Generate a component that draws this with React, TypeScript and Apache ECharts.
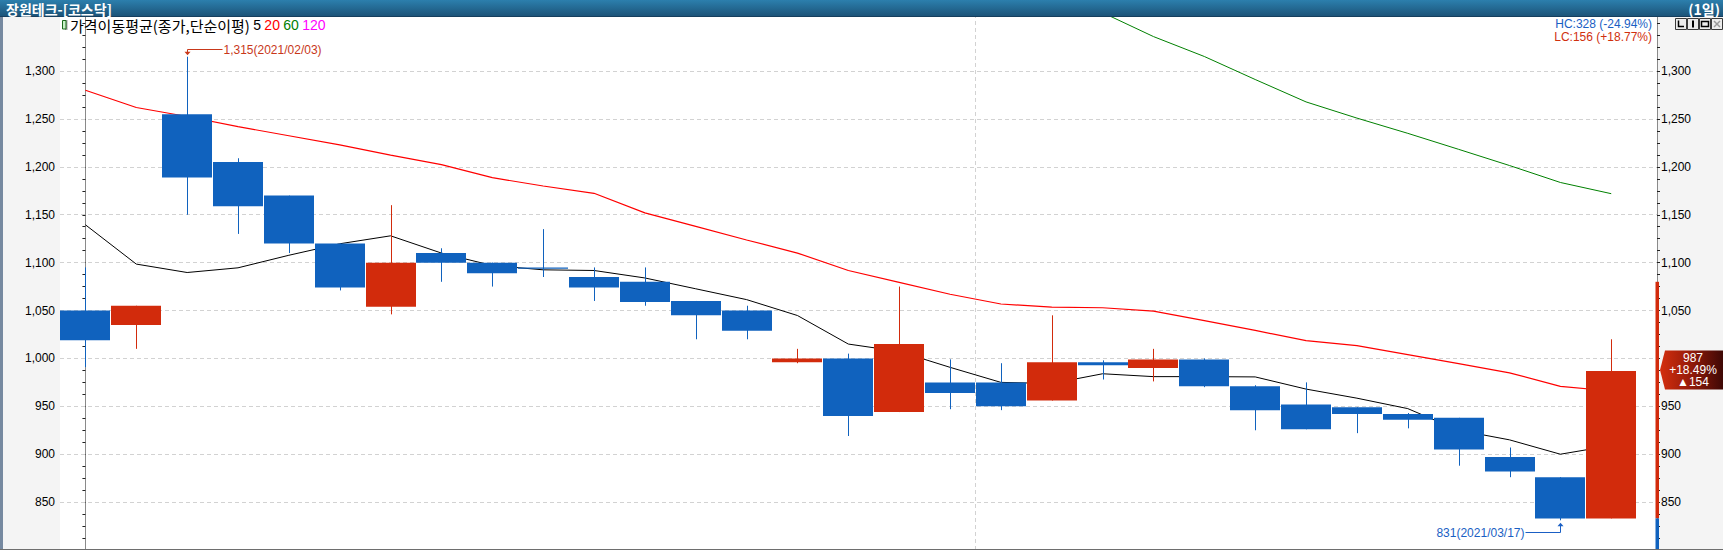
import React, { useEffect, useRef } from 'react';
import * as echarts from 'echarts';

// ---------- data ----------
const DATES = [
  '2021/02/01', '2021/02/02', '2021/02/03', '2021/02/04', '2021/02/05', '2021/02/08', '2021/02/09',
  '2021/02/10', '2021/02/15', '2021/02/16', '2021/02/17', '2021/02/18', '2021/02/19', '2021/02/22',
  '2021/02/23', '2021/02/24', '2021/02/25', '2021/02/26', '2021/03/02', '2021/03/03', '2021/03/04',
  '2021/03/05', '2021/03/08', '2021/03/09', '2021/03/10', '2021/03/11', '2021/03/12', '2021/03/15',
  '2021/03/16', '2021/03/17', '2021/03/18',
];
const OPEN = [1050, 1035, 1255, 1205, 1170, 1120, 1054, 1110, 1100, 1095, 1085, 1080, 1060, 1050, 996, 1000, 944, 975, 975, 956, 996, 990, 999, 971, 952, 949, 942, 938, 897, 876, 833];
const CLOSE = [1019, 1055, 1189, 1159, 1120, 1074, 1100, 1100, 1089, 1095, 1074, 1059, 1045, 1029, 1000, 940, 1015, 964, 950, 996, 993, 999, 971, 946, 926, 942, 936, 905, 882, 833, 987];
const LOW = [991, 1010, 1150, 1130, 1110, 1071, 1046, 1080, 1075, 1085, 1060, 1055, 1020, 1020, 995, 919, 944, 947, 946, 956, 978, 976, 970, 925, 926, 922, 927, 888, 876, 831, 833];
const HIGH = [1095, 1055, 1315, 1209, 1170, 1120, 1160, 1115, 1100, 1135, 1095, 1095, 1060, 1055, 1010, 1005, 1075, 999, 995, 1045, 998, 1010, 1000, 972, 975, 949, 943, 938, 907, 876, 1020];
const MA5 = [1139.5, 1098.5, 1089.7, 1094.6, 1107.7, 1119.7, 1128, 1110, 1097, 1092.5, 1091.8, 1084, 1072.7, 1061.4, 1044.8, 1015, 1007.3, 990.7, 975, 973.8, 984, 981, 981, 980.7, 968, 958.5, 947.6, 925, 915, 900, 909];
const MA20 = [1280, 1262, 1252.6, 1242, 1232.5, 1223, 1212.3, 1202.4, 1188.7, 1180, 1172.4, 1151.9, 1137.8, 1123.6, 1110, 1091.8, 1079.4, 1067, 1056.8, 1053.6, 1052.9, 1049.4, 1039.5, 1029.2, 1018.6, 1013.3, 1004, 994.6, 985, 970.9, 966];
const MA60: (number | null)[] = [null, null, null, null, null, null, null, null, null, null, null, null, null, null, null, null, null, null, null, null, 1361, 1336, 1315.2, 1291.2, 1267.8, 1250.9, 1235, 1218.3, 1201.4, 1183.7, 1172];
const Y_TICKS = [850, 900, 950, 1000, 1050, 1100, 1150, 1200, 1250, 1300];
const PREV_CLOSE = 833;
const UPPER_LIMIT = 1080;
const TITLE = '장원테크-[코스닥]';
const PERIOD = '(1일)';
const LEGEND_NAME = '가격이동평균(종가,단순이평)';
const MA_PERIODS = ['5', '20', '60', '120'];

// ---------- styles ----------
const BLUE = '#1062BE';
const RED = '#D22B0C';
const FONT_NUM = '"Liberation Sans", Arial, sans-serif';
const FONT_KR = '"Noto Sans CJK KR", sans-serif';

const fmt = (v: number) => v.toLocaleString('en-US');

function buildOption(): any {
  const candles = OPEN.map((o, i) => [i, o, CLOSE[i], LOW[i], HIGH[i]]);
  const toPairs = (arr: (number | null)[]) =>
    arr.map((v, i) => [i, v]).filter((p) => p[1] !== null);
  let monthBreak = -1;
  for (let i = 1; i < DATES.length; i++) {
    if (DATES[i].slice(5, 7) !== DATES[i - 1].slice(5, 7)) { monthBreak = i - 0.5; break; }
  }
  const lastClose = CLOSE[CLOSE.length - 1];
  const inRange = (v: number) => v >= Y_TICKS[0] && v <= Y_TICKS[Y_TICKS.length - 1];
  const yAxisBase = {
    type: 'value',
    min: 800,
    max: 1360,
    interval: 50,
    axisLine: { show: true, lineStyle: { color: '#8a8a8a', width: 1 } },
    axisTick: { show: true, length: 3, lineStyle: { color: '#222' } },
    minorTick: { show: true, splitNumber: 4, length: 3, lineStyle: { color: '#222' } },
    splitLine: { show: false },
    minorSplitLine: { show: false },
    axisLabel: {
      color: '#000',
      fontSize: 12,
      fontFamily: FONT_NUM,
      formatter: (v: number) => (inRange(v) ? fmt(v) : ''),
    },
  };
  return {
    animation: false,
    backgroundColor: '#ffffff',
    grid: { left: 60, width: 1597, top: 13.6, height: 538.5, containLabel: false },
    xAxis: { type: 'value', min: -0.5, max: 30.9, show: false },
    yAxis: [
      { ...yAxisBase, position: 'left', axisLabel: { ...yAxisBase.axisLabel, margin: 5 } },
      {
        ...yAxisBase,
        position: 'right',
        axisLabel: {
          ...yAxisBase.axisLabel,
          margin: 4,
          // the current-price tag covers the label next to it
          formatter: (v: number) => (inRange(v) && Math.abs(v - lastClose) > 21 ? fmt(v) : ''),
        },
      },
    ],
    series: [
      {
        type: 'line',
        data: [],
        z: 1,
        silent: true,
        markLine: {
          z: 1,
          silent: true,
          symbol: ['none', 'none'],
          label: { show: false },
          lineStyle: { color: '#d2d2d2', type: [4, 3], width: 1 },
          data: [...Y_TICKS.map((v) => ({ yAxis: v })), ...(monthBreak >= 0 ? [{ xAxis: monthBreak }] : [])],
        },
      },
      {
        type: 'line', name: 'MA60', data: toPairs(MA60), showSymbol: false, z: 2, clip: true,
        lineStyle: { color: '#008000', width: 1 }, itemStyle: { color: '#008000' },
      },
      {
        type: 'line', name: 'MA20', data: toPairs(MA20), showSymbol: false, z: 2, clip: true,
        lineStyle: { color: '#FF0000', width: 1.2 }, itemStyle: { color: '#FF0000' },
      },
      {
        type: 'line', name: 'MA5', data: toPairs(MA5), showSymbol: false, z: 2, clip: true,
        lineStyle: { color: '#000000', width: 1 }, itemStyle: { color: '#000000' },
      },
      {
        type: 'custom',
        name: 'price',
        z: 3,
        clip: true,
        data: candles,
        encode: { x: 0, y: [1, 2, 3, 4] },
        renderItem: (params: any, api: any) => {
          const i = api.value(0);
          const o = api.value(1);
          const c = api.value(2);
          const l = api.value(3);
          const h = api.value(4);
          const po = api.coord([i, o]);
          const pc = api.coord([i, c]);
          const pl = api.coord([i, l]);
          const ph = api.coord([i, h]);
          const w = Math.round(api.size([1, 0])[0] * 0.983);
          const color = c > o ? RED : BLUE;
          const cx = Math.round(po[0]);
          const top = Math.min(po[1], pc[1]);
          const bh = Math.max(Math.abs(po[1] - pc[1]), 1.2);
          return {
            type: 'group',
            children: [
              { type: 'line', shape: { x1: cx + 0.5, y1: ph[1], x2: cx + 0.5, y2: pl[1] }, style: { stroke: color, lineWidth: 1 } },
              { type: 'rect', shape: { x: Math.round(cx - w / 2), y: top, width: w, height: bh }, style: { fill: color } },
            ],
          };
        },
      },
    ],
  };
}

function buildGraphics(px: (i: number, v: number) => number[]): any[] {
  const g: any[] = [];
  // panels
  g.push({ type: 'rect', z: -5, shape: { x: 0, y: 0, width: 60, height: 550 }, style: { fill: '#f4f4f4' } });
  g.push({ type: 'rect', z: -4, shape: { x: 0, y: 0, width: 3, height: 550 }, style: { fill: '#7689a0' } });
  g.push({ type: 'rect', z: -5, shape: { x: 1657.5, y: 0, width: 66, height: 550 }, style: { fill: '#f4f4f4' } });
  g.push({ type: 'rect', z: 50, shape: { x: 0, y: 549, width: 1723, height: 1.5 }, style: { fill: '#6e6e6e' } });

  // title bar
  g.push({
    type: 'rect', z: 100, shape: { x: 0, y: 0, width: 1723, height: 16 },
    style: {
      fill: new echarts.graphic.LinearGradient(0, 0, 0, 1, [
        { offset: 0, color: '#2c7fad' },
        { offset: 1, color: '#1c5479' },
      ]),
    },
  });
  g.push({ type: 'rect', z: 100, shape: { x: 0, y: 16, width: 1723, height: 1 }, style: { fill: '#163f5e' } });
  g.push({
    type: 'text', z: 101, x: 6, y: 8.5,
    style: { text: TITLE, fill: '#ffffff', fontSize: 14, fontWeight: 'bold', fontFamily: FONT_KR, align: 'left', verticalAlign: 'middle' },
  });
  g.push({
    type: 'text', z: 101, x: 1720, y: 8.5,
    style: { text: PERIOD, fill: '#ffffff', fontSize: 14, fontWeight: 'bold', fontFamily: FONT_KR, align: 'right', verticalAlign: 'middle' },
  });

  // window buttons
  for (let b = 0; b < 4; b++) {
    const x0 = 1675 + b * 12;
    const y0 = 18;
    g.push({ type: 'rect', z: 60, shape: { x: x0 + 0.5, y: y0 + 0.5, width: 11, height: 11 }, style: { fill: '#ececec', stroke: '#3a3a3a', lineWidth: 1 } });
    const ic = b === 3 ? '#9a9a9a' : '#000';
    if (b === 0) g.push({ type: 'polyline', z: 61, shape: { points: [[x0 + 3.5, y0 + 2.5], [x0 + 3.5, y0 + 8.5], [x0 + 9, y0 + 8.5]] }, style: { stroke: ic, lineWidth: 1.5, fill: 'none' } });
    if (b === 1) g.push({ type: 'rect', z: 61, shape: { x: x0 + 5, y: y0 + 2.5, width: 2, height: 7 }, style: { fill: ic } });
    if (b === 2) g.push({ type: 'rect', z: 61, shape: { x: x0 + 2.5, y: y0 + 3.5, width: 7, height: 5 }, style: { fill: 'none', stroke: ic, lineWidth: 1.5 } });
    if (b === 3) {
      g.push({ type: 'line', z: 61, shape: { x1: x0 + 3, y1: y0 + 3, x2: x0 + 9, y2: y0 + 9 }, style: { stroke: ic, lineWidth: 1.5 } });
      g.push({ type: 'line', z: 61, shape: { x1: x0 + 9, y1: y0 + 3, x2: x0 + 3, y2: y0 + 9 }, style: { stroke: ic, lineWidth: 1.5 } });
    }
  }

  // legend
  g.push({ type: 'rect', z: 60, shape: { x: 65, y: 20, width: 2.5, height: 10 }, style: { fill: '#a0a0a0' } });
  g.push({ type: 'rect', z: 61, shape: { x: 62.5, y: 20.5, width: 3.5, height: 8.5 }, style: { fill: '#c8f0c8', stroke: '#1a6a1a', lineWidth: 1 } });
  g.push({
    type: 'text', z: 60, x: 70, y: 25,
    style: {
      text: `{k|${LEGEND_NAME}} {a|${MA_PERIODS[0]}} {b|${MA_PERIODS[1]}} {c|${MA_PERIODS[2]}} {d|${MA_PERIODS[3]}}`,
      verticalAlign: 'middle', align: 'left',
      rich: {
        k: { fill: '#000', fontSize: 15, fontFamily: FONT_KR },
        a: { fill: '#000', fontSize: 14, fontFamily: FONT_NUM },
        b: { fill: '#ff0000', fontSize: 14, fontFamily: FONT_NUM },
        c: { fill: '#008000', fontSize: 14, fontFamily: FONT_NUM },
        d: { fill: '#ff00ff', fontSize: 14, fontFamily: FONT_NUM },
      },
    },
  });

  // HC / LC
  const last = CLOSE.length - 1;
  const lastClose = CLOSE[last];
  let hiIdx = 0;
  let loIdx = 0;
  HIGH.forEach((v, i) => { if (v > HIGH[hiIdx]) hiIdx = i; });
  LOW.forEach((v, i) => { if (v < LOW[loIdx]) loIdx = i; });
  const maxH = HIGH[hiIdx];
  const minL = LOW[loIdx];
  const hcPct = ((lastClose - maxH) / maxH) * 100;
  const lcPct = ((lastClose - minL) / minL) * 100;
  g.push({
    type: 'text', z: 60, x: 1652, y: 24,
    style: { text: `HC:${maxH - lastClose} (${hcPct.toFixed(2)}%)`, fill: '#1a5fc4', fontSize: 12, fontFamily: FONT_NUM, align: 'right', verticalAlign: 'middle' },
  });
  g.push({
    type: 'text', z: 60, x: 1652, y: 37,
    style: { text: `LC:${lastClose - minL} (+${lcPct.toFixed(2)}%)`, fill: '#d0300e', fontSize: 12, fontFamily: FONT_NUM, align: 'right', verticalAlign: 'middle' },
  });

  // high annotation
  const hp = px(hiIdx, maxH);
  const hx = Math.round(hp[0]) + 0.5;
  const hLineY = Math.round(hp[1] - 8) + 0.5;
  const HI_C = '#c8381a';
  g.push({ type: 'polyline', z: 60, shape: { points: [[hx, hp[1] - 4], [hx, hLineY], [hx + 35, hLineY]] }, style: { stroke: HI_C, lineWidth: 1, fill: 'none' } });
  g.push({ type: 'polygon', z: 60, shape: { points: [[hx - 3, hp[1] - 5], [hx + 3, hp[1] - 5], [hx, hp[1] - 1.5]] }, style: { fill: HI_C } });
  g.push({
    type: 'text', z: 60, x: hx + 36, y: hLineY,
    style: { text: `${fmt(maxH)}(${DATES[hiIdx]})`, fill: HI_C, fontSize: 12, fontFamily: FONT_NUM, align: 'left', verticalAlign: 'middle' },
  });

  // low annotation
  const lp = px(loIdx, minL);
  const lx = Math.round(lp[0]) + 0.5;
  const lLineY = Math.round(lp[1] + 12) + 0.5;
  const LO_C = '#1a5fc4';
  g.push({ type: 'polyline', z: 60, shape: { points: [[lx, lp[1] + 5], [lx, lLineY], [lx - 35, lLineY]] }, style: { stroke: LO_C, lineWidth: 1, fill: 'none' } });
  g.push({ type: 'polygon', z: 60, shape: { points: [[lx - 3, lp[1] + 6], [lx + 3, lp[1] + 6], [lx, lp[1] + 2.5]] }, style: { fill: LO_C } });
  g.push({
    type: 'text', z: 60, x: lx - 36, y: lLineY,
    style: { text: `${fmt(minL)}(${DATES[loIdx]})`, fill: LO_C, fontSize: 12, fontFamily: FONT_NUM, align: 'right', verticalAlign: 'middle' },
  });

  // price range bar at right axis
  const yUp = px(0, UPPER_LIMIT)[1];
  const yPrev = px(0, PREV_CLOSE)[1];
  g.push({ type: 'rect', z: 40, shape: { x: 1655.5, y: yUp, width: 3.5, height: yPrev - yUp }, style: { fill: RED } });
  g.push({ type: 'rect', z: 40, shape: { x: 1655.5, y: yPrev, width: 3.5, height: 549 - yPrev }, style: { fill: BLUE } });

  // current price tag
  const cy = px(last, lastClose)[1] - 1;
  const chg = lastClose - PREV_CLOSE;
  const chgPct = (chg / PREV_CLOSE) * 100;
  g.push({
    type: 'polygon', z: 45,
    shape: { points: [[1665, cy - 19.5], [1723, cy - 19.5], [1723, cy + 19.5], [1665, cy + 19.5], [1660, cy]] },
    style: {
      fill: new echarts.graphic.LinearGradient(0, 0, 1, 0, [
        { offset: 0, color: '#d42e0e' },
        { offset: 0.45, color: '#9a1c0a' },
        { offset: 1, color: '#3e0805' },
      ]),
    },
  });
  g.push({
    type: 'text', z: 46, x: 1693, y: cy,
    style: {
      text: `${lastClose}\n+${chgPct.toFixed(2)}%\n▲${chg}`,
      fill: '#ffffff', fontSize: 12, lineHeight: 12, fontFamily: FONT_NUM, align: 'center', verticalAlign: 'middle',
    },
  });
  return g;
}

export default function App() {
  const ref = useRef<HTMLDivElement>(null);
  useEffect(() => {
    const el = ref.current;
    if (!el) return;
    const chart = echarts.init(el, null, { renderer: 'svg' });
    chart.setOption(buildOption());
    const px = (i: number, v: number) => chart.convertToPixel({ gridIndex: 0 }, [i, v]) as number[];
    chart.setOption({ graphic: buildGraphics(px) });
    return () => chart.dispose();
  }, []);
  return <div ref={ref} style={{ position: 'absolute', left: 0, top: 0, width: 1723, height: 550 }} />;
}
